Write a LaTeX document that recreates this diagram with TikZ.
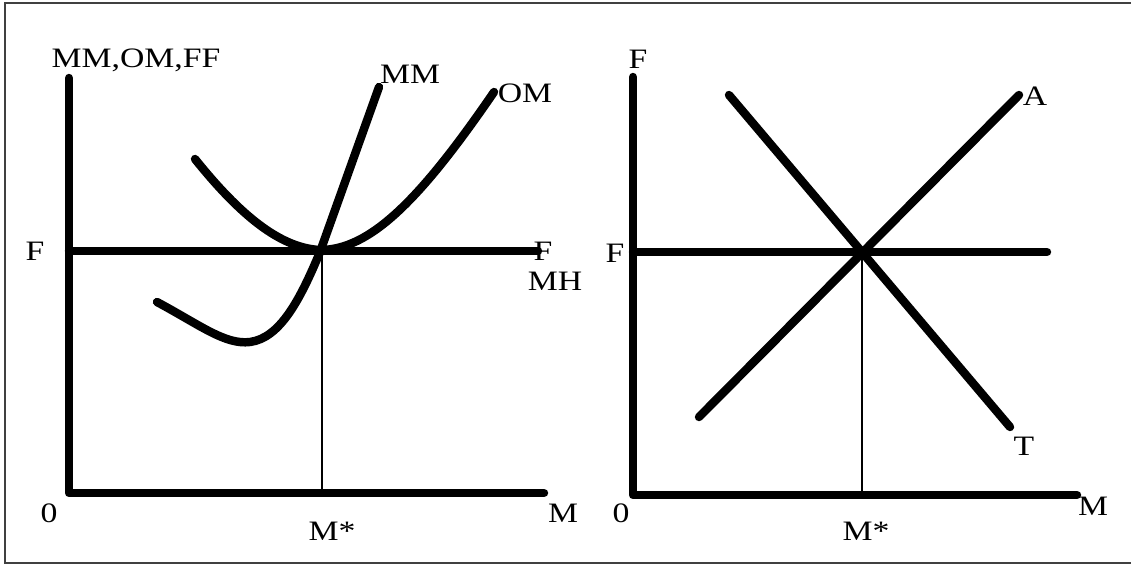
\documentclass[tikz,border=0pt]{standalone}
\usepackage{graphicx}
\usepackage{fontspec}
\setmainfont{Liberation Serif}
\usepackage{tikz}

\newcommand{\estirar}[1]{\scalebox{1.2}[1]{#1}}

\tikzset{
  grueso/.style={line width=4.8pt, line cap=round, line join=round},
  fino/.style={line width=0.6pt},
  etiqueta/.style={font=\fontsize{16}{18}\selectfont, inner sep=0pt, anchor=base}
}

\begin{document}
\begin{tikzpicture}[x=0.02cm, y=-0.02cm]
    \useasboundingbox (0,0) rectangle (1131,565);
    % Marco
    \draw[line width=1pt, black!75] (1131,3) -- (5,3) -- (5,563) -- (1131,563);

    % Puntos del panel izquierdo
    \coordinate (Ytop1) at (69,78);
    \coordinate (O1) at (69,493);
    \coordinate (Xend1) at (544,493);
    \coordinate (F1a) at (69,251);
    \coordinate (F1b) at (538,251);
    \coordinate (E1) at (322,251);
    \coordinate (M1) at (322,493);

    % Ejes y recta F (izquierda)
    \draw[grueso] (Ytop1) -- (O1) -- (Xend1);
    \draw[grueso] (F1a) -- (F1b);
    \draw[fino] (E1) -- (M1);

    % Curvas MM y OM
    \draw[grueso] (157,302) .. controls (200,325) and (225,345) .. (250,342)
        .. controls (280,338) and (300,300) .. (320,252) -- (379,87);
    \draw[grueso] (195,159) .. controls (240,215) and (280,248) .. (320,250)
        .. controls (370,250) and (420,200) .. (494,92);

    % Etiquetas (izquierda)
    \node[etiqueta] (ejeV1) at (136,67) {\estirar{MM,OM,FF}};
    \node[etiqueta] (F1izq) at (35,260) {\estirar{F}};
    \node[etiqueta] (F1der) at (543,260) {\estirar{F}};
    \node[etiqueta] (MH) at (555,290) {\estirar{MH}};
    \node[etiqueta] (cero1) at (49,522) {\estirar{0}};
    \node[etiqueta] (ejeH1) at (563,522) {\estirar{M}};
    \node[etiqueta] (Mstar1) at (332,540) {\estirar{M*}};
    \node[etiqueta] (MM) at (410,83) {\estirar{MM}};
    \node[etiqueta] (OM) at (525,102) {\estirar{OM}};

    % Puntos del panel derecho
    \coordinate (Ytop2) at (633,77);
    \coordinate (O2) at (633,495);
    \coordinate (Xend2) at (1077,495);
    \coordinate (F2a) at (633,252);
    \coordinate (F2b) at (1047,252);
    \coordinate (E2) at (862,252);
    \coordinate (M2) at (862,495);
    \coordinate (A0) at (699,417);
    \coordinate (A1) at (1019,95);
    \coordinate (T0) at (729,95);
    \coordinate (T1) at (1010,427);

    % Ejes, recta F y rectas A, T (derecha)
    \draw[grueso] (Ytop2) -- (O2) -- (Xend2);
    \draw[grueso] (F2a) -- (F2b);
    \draw[fino] (E2) -- (M2);
    \draw[grueso] (A0) -- (A1);
    \draw[grueso] (T0) -- (T1);

    % Etiquetas (derecha)
    \node[etiqueta] (ejeV2) at (638,68) {\estirar{F}};
    \node[etiqueta] (F2izq) at (615,262) {\estirar{F}};
    \node[etiqueta] (A) at (1035,105) {\estirar{A}};
    \node[etiqueta] (T) at (1024,455) {\estirar{T}};
    \node[etiqueta] (cero2) at (621,522) {\estirar{0}};
    \node[etiqueta] (ejeH2) at (1093,515) {\estirar{M}};
    \node[etiqueta] (Mstar2) at (866,540) {\estirar{M*}};
\end{tikzpicture}
\end{document}
